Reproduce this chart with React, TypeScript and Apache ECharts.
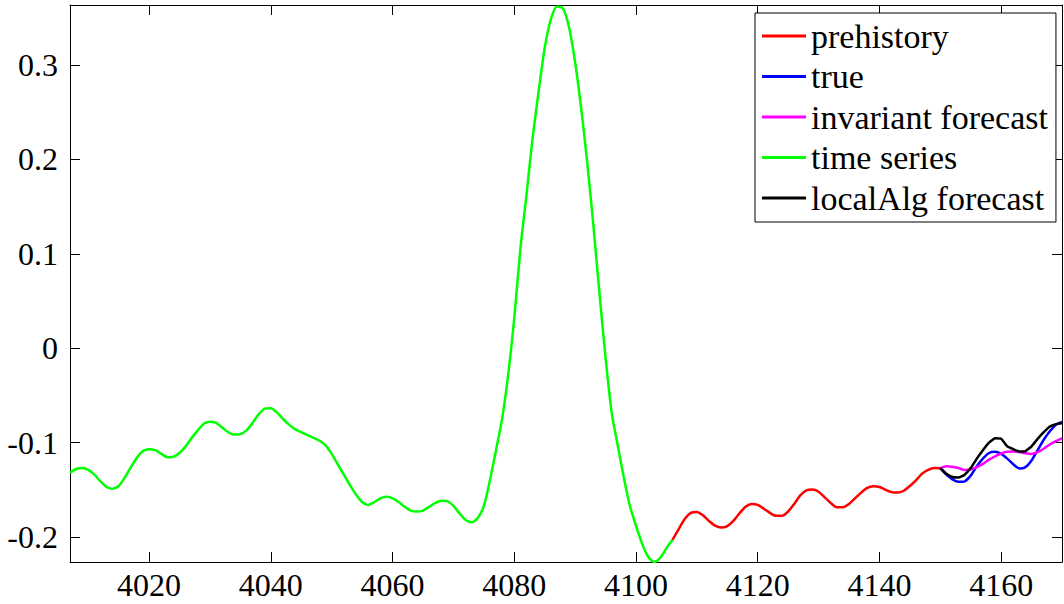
import React, { useEffect, useRef } from "react";
import * as echarts from "echarts";

const xMin = 4007;
const xMax = 4170;
const yMin = -0.2265;
const yMax = 0.3636;

// time series (green), x = 4007 .. 4106
const timeSeriesStart = 4007;
const timeSeriesValues = [
  -0.132, -0.128, -0.127, -0.129, -0.134, -0.141, -0.147, -0.149, -0.146, -0.137,
  -0.126, -0.116, -0.109, -0.107, -0.108, -0.112, -0.1155, -0.115, -0.111, -0.104,
  -0.095, -0.087, -0.08, -0.078, -0.079, -0.084, -0.089, -0.0915, -0.091, -0.087,
  -0.079, -0.07, -0.064, -0.0635, -0.068, -0.075, -0.081, -0.086, -0.089, -0.092,
  -0.095, -0.098, -0.103, -0.112, -0.123, -0.134, -0.145, -0.155, -0.163, -0.166,
  -0.163, -0.159, -0.1575, -0.159, -0.163, -0.168, -0.172, -0.173, -0.172, -0.168,
  -0.164, -0.1615, -0.162, -0.167, -0.175, -0.182, -0.1845, -0.18, -0.167, -0.14,
  -0.108, -0.075, -0.028, 0.032, 0.105, 0.162, 0.222, 0.272, 0.318, 0.348,
  0.362, 0.36, 0.34, 0.303, 0.254, 0.196, 0.13, 0.058, -0.01, -0.068,
  -0.103, -0.137, -0.167, -0.188, -0.207, -0.221, -0.2265, -0.222, -0.212, -0.203,
];

// prehistory (red), x = 4106 .. 4150
const prehistoryStart = 4106;
const prehistoryValues = [
  -0.203, -0.192, -0.181, -0.1745, -0.1735, -0.177, -0.183, -0.188, -0.19, -0.1885,
  -0.183, -0.175, -0.168, -0.165, -0.166, -0.17, -0.1745, -0.1775, -0.1775, -0.173,
  -0.165, -0.156, -0.1505, -0.1497, -0.152, -0.158, -0.164, -0.1685, -0.1685, -0.165,
  -0.159, -0.153, -0.148, -0.1462, -0.147, -0.15, -0.1525, -0.153, -0.151, -0.146,
  -0.14, -0.133, -0.129, -0.127, -0.1272,
];

// forecast window, x = 4150 .. 4170
const forecastStart = 4150;
const trueValues = [
  -0.1272, -0.134, -0.139, -0.1415, -0.141, -0.135, -0.125, -0.117, -0.111, -0.1098,
  -0.112, -0.117, -0.123, -0.1275, -0.126, -0.119, -0.108, -0.097, -0.088, -0.081,
  -0.078,
];
const invariantValues = [
  -0.1272, -0.125, -0.1255, -0.127, -0.129, -0.1285, -0.126, -0.1225, -0.118, -0.1145,
  -0.1115, -0.1098, -0.1095, -0.11, -0.1112, -0.112, -0.11, -0.1065, -0.102, -0.0985,
  -0.0955,
];
const localAlgValues = [
  -0.1272, -0.133, -0.1365, -0.137, -0.134, -0.127, -0.117, -0.108, -0.1, -0.0955,
  -0.096, -0.104, -0.107, -0.1095, -0.109, -0.104, -0.096, -0.089, -0.083, -0.0805,
  -0.0795,
];

const legendNames = [
  "prehistory",
  "true",
  "invariant forecast",
  "time series",
  "localAlg forecast",
];

const toPairs = (start: number, vals: number[]) => vals.map((v, i) => [start + i, v]);

const FONT = "Liberation Serif";

export default function App() {
  const ref = useRef<HTMLDivElement>(null);
  useEffect(() => {
    if (!ref.current) return;
    const chart = echarts.init(ref.current, undefined, { renderer: "svg" });
    const axisLine = { show: true, onZero: false, lineStyle: { color: "#000", width: 1 } };
    const axisTick = { show: true, inside: true, length: 10, lineStyle: { color: "#000", width: 1 } };
    const lineSeries = (name: string, color: string, data: number[][], smooth: number) => ({
      name,
      type: "line",
      data,
      showSymbol: false,
      symbol: "none",
      smooth,
      lineStyle: { color, width: 2.5 },
      itemStyle: { color },
    });
    chart.setOption({
      animation: false,
      backgroundColor: "#fff",
      textStyle: { fontFamily: FONT },
      grid: { left: 70, right: 2, top: 5, bottom: 42, containLabel: false, outerBoundsMode: "none" },
      xAxis: [
        {
          type: "value", min: xMin, max: xMax, splitNumber: 8, position: "bottom",
          axisLine, axisTick, splitLine: { show: false },
          axisLabel: {
            showMinLabel: false, showMaxLabel: false, margin: 7,
            fontFamily: FONT, fontSize: 32, color: "#000",
            formatter: (v: number) => (Math.abs(v % 20) < 1e-6 ? String(v) : ""),
          },
        },
        {
          type: "value", min: xMin, max: xMax, splitNumber: 8, position: "top",
          axisLine, axisTick, splitLine: { show: false }, axisLabel: { show: false },
        },
      ],
      yAxis: [
        {
          type: "value", min: yMin, max: yMax, splitNumber: 5, position: "left",
          axisLine, axisTick, splitLine: { show: false },
          axisLabel: {
            showMinLabel: false, showMaxLabel: false, margin: 12,
            fontFamily: FONT, fontSize: 32, color: "#000",
            formatter: (v: number) => {
              const r = Math.round(v * 10) / 10;
              return Math.abs(r - v) < 1e-6 ? String(r) : "";
            },
          },
        },
        {
          type: "value", min: yMin, max: yMax, splitNumber: 5, position: "right",
          axisLine, axisTick, splitLine: { show: false }, axisLabel: { show: false },
        },
      ],
      legend: {
        data: legendNames,
        orient: "vertical",
        left: 755,
        top: 13,
        icon: "rect",
        itemWidth: 44,
        itemHeight: 3,
        itemGap: 6.5,
        padding: [6, 8, 7, 7],
        backgroundColor: "#fff",
        borderColor: "#000",
        borderWidth: 1,
        borderRadius: 0,
        textStyle: { fontFamily: FONT, fontSize: 34, color: "#000", lineHeight: 34 },
      },
      series: [
        lineSeries("time series", "#00ff00", toPairs(timeSeriesStart, timeSeriesValues), 0.25),
        lineSeries("prehistory", "#ff0000", toPairs(prehistoryStart, prehistoryValues), 0.25),
        lineSeries("true", "#0000ff", toPairs(forecastStart, trueValues), 0.2),
        lineSeries("invariant forecast", "#ff00ff", toPairs(forecastStart, invariantValues), 0.2),
        lineSeries("localAlg forecast", "#000000", toPairs(forecastStart, localAlgValues), 0.1),
      ],
    });
    return () => chart.dispose();
  }, []);
  return (
    <div
      ref={ref}
      style={{ position: "fixed", left: 0, top: 0, width: 1064, height: 604, background: "#fff" }}
    />
  );
}
